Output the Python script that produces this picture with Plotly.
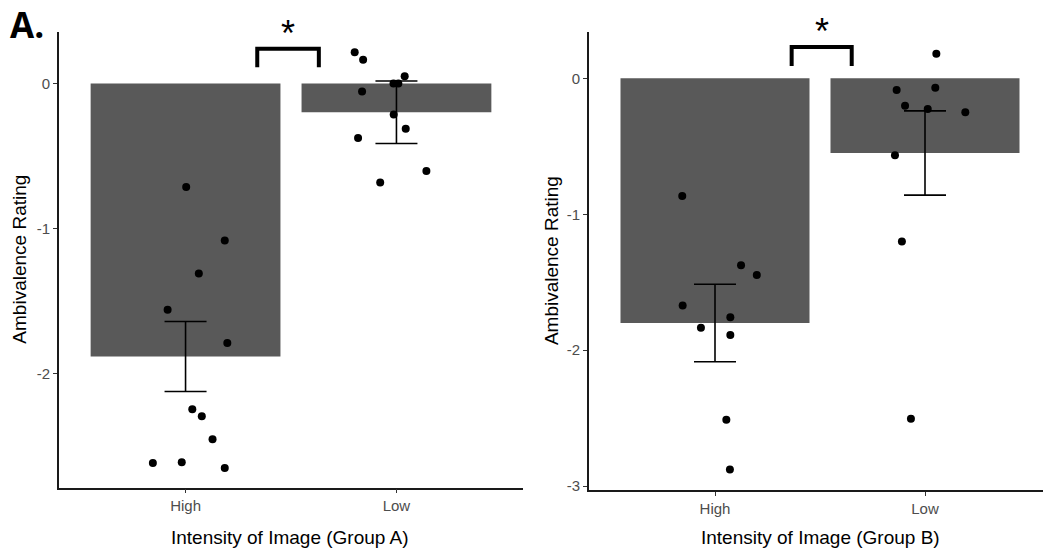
import plotly.graph_objects as go

# ---- data ---------------------------------------------------------------
categories = ["High", "Low"]
cat_pos = [1, 2]

# Group A: bar means and standard errors
means_a = [-1.88, -0.198]
se_a = [0.241, 0.215]
# Group A: individual ratings and horizontal jitter
high_a = [-0.713, -1.081, -1.309, -1.559, -1.788, -2.244, -2.292, -2.451, -2.614, -2.608, -2.648]
high_a_jit = [0.003, 0.186, 0.063, -0.085, 0.198, 0.032, 0.077, 0.128, -0.155, -0.018, 0.186]
low_a = [0.216, 0.164, 0.050, 0.0, 0.0, -0.055, -0.214, -0.312, -0.375, -0.603, -0.681]
low_a_jit = [-0.198, -0.158, 0.039, -0.014, 0.009, -0.163, -0.013, 0.044, -0.182, 0.142, -0.077]

# Group B: bar means and standard errors
means_b = [-1.80, -0.549]
se_b = [0.285, 0.31]
# Group B: individual ratings and horizontal jitter
high_b = [-0.865, -1.375, -1.446, -1.671, -1.757, -1.835, -1.888, -2.512, -2.877]
high_b_jit = [-0.156, 0.124, 0.199, -0.154, 0.073, -0.067, 0.073, 0.054, 0.071]
low_b = [0.180, -0.085, -0.070, -0.202, -0.226, -0.250, -0.566, -1.200, -2.505]
low_b_jit = [0.054, -0.135, 0.049, -0.095, 0.013, 0.192, -0.143, -0.110, -0.067]

yticks_a = [0, -1, -2]
yticks_b = [0, -1, -2, -3]

# ---- styling ------------------------------------------------------------
W, H = 1043, 552
BAR = "#595959"
FONT = "Liberation Sans"
TICK_GREY = "#4d4d4d"

fig = go.Figure()


def add_panel(fig, means, se, high, high_jit, low, low_jit, xa, ya):
    fig.add_trace(go.Bar(
        x=cat_pos, y=means, width=0.9,
        marker=dict(color=BAR, line=dict(width=0)),
        error_y=dict(type="data", array=se, color="black", thickness=1.6, width=21),
        xaxis=xa, yaxis=ya, showlegend=False, hoverinfo="skip",
    ))
    xs = [cat_pos[0] + j for j in high_jit] + [cat_pos[1] + j for j in low_jit]
    ys = list(high) + list(low)
    fig.add_trace(go.Scatter(
        x=xs, y=ys, mode="markers",
        marker=dict(color="black", size=8, line=dict(width=0)),
        xaxis=xa, yaxis=ya, showlegend=False, hoverinfo="skip",
    ))


add_panel(fig, means_a, se_a, high_a, high_a_jit, low_a, low_a_jit, "x", "y")
add_panel(fig, means_b, se_b, high_b, high_b_jit, low_b, low_b_jit, "x2", "y2")

axis_common = dict(
    showline=True, linecolor="#1a1a1a", linewidth=1.6,
    showgrid=False, zeroline=False,
    ticks="outside", ticklen=4, tickwidth=1, tickcolor="#333333",
    tickfont=dict(family=FONT, size=15, color=TICK_GREY),
    fixedrange=True,
)

fig.update_layout(
    width=W, height=H,
    margin=dict(l=0, r=0, t=0, b=0),
    paper_bgcolor="white", plot_bgcolor="white",
    xaxis=dict(domain=[59 / W, 523 / W], range=[0.4, 2.6],
               tickvals=cat_pos, ticktext=categories, anchor="y", **axis_common),
    yaxis=dict(domain=[1 - 492 / H, 1 - 32 / H], range=[-2.783, 0.357],
               tickvals=yticks_a, ticktext=[str(v) for v in yticks_a],
               anchor="x", **axis_common),
    xaxis2=dict(domain=[589 / W, 1.0], range=[0.4, 0.4 + (W - 589) / 210],
                tickvals=cat_pos, ticktext=categories, anchor="y2", **axis_common),
    yaxis2=dict(domain=[1 - 494.3 / H, 1 - 32 / H], range=[-3.027, 0.343],
                tickvals=yticks_b, ticktext=[str(v) for v in yticks_b],
                anchor="x2", **axis_common),
)

# significance brackets
for xr, yr, x0, x1, ylo, yhi in [("x", "y", 1.34, 1.632, 0.113, 0.239),
                                  ("x2", "y2", 1.365, 1.651, 0.09, 0.231)]:
    fig.add_shape(type="path", xref=xr, yref=yr,
                  path=f"M {x0},{ylo} L {x0},{yhi} L {x1},{yhi} L {x1},{ylo}",
                  line=dict(color="black", width=4))
    fig.add_annotation(x=(x0 + x1) / 2, y=yhi, xref=xr, yref=yr,
                       text="*", showarrow=False, yanchor="bottom", yshift=-7,
                       font=dict(family=FONT, size=36, color="black"))

# axis titles
title_font = dict(family=FONT, size=19, color="black")
for x, text in [(290, "Intensity of Image (Group A)"), (820, "Intensity of Image (Group B)")]:
    fig.add_annotation(x=x / W, y=1 - 542 / H, xref="paper", yref="paper",
                       text=text, showarrow=False, xanchor="center", yanchor="middle",
                       font=title_font)
for x, y in [(20, 262), (551, 263.5)]:
    fig.add_annotation(x=x / W, y=1 - y / H, xref="paper", yref="paper",
                       text="Ambivalence Rating", showarrow=False, textangle=-90,
                       xanchor="center", yanchor="middle", font=title_font)

# panel label
fig.add_annotation(x=9 / W, y=1.0, xref="paper", yref="paper",
                   text="<b>A.</b>", showarrow=False, xanchor="left", yanchor="top",
                   borderpad=0, font=dict(family="Open Sans", size=35, color="black"))

fig.write_html("out.html", config={"displayModeBar": False})
